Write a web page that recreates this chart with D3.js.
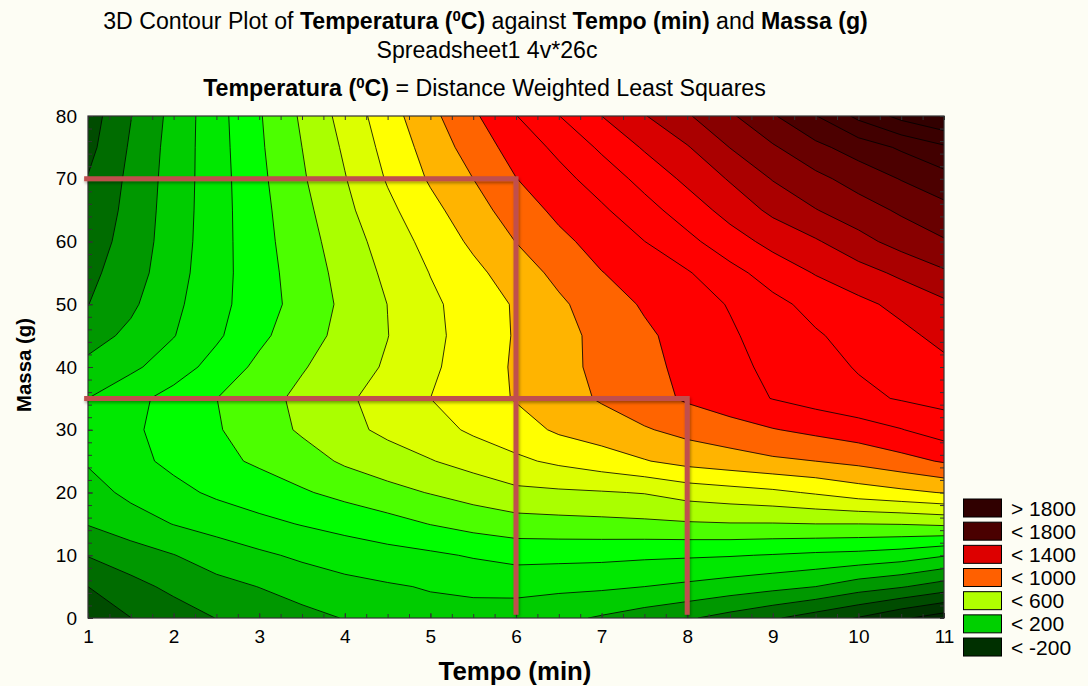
<!DOCTYPE html>
<html><head><meta charset="utf-8">
<script src="https://cdn.jsdelivr.net/npm/d3@7"></script>
<style>
html,body{margin:0;padding:0;background:#fdfdf4;}
svg{display:block;}
text{font-family:"Liberation Sans",Arial,sans-serif;fill:#000;}
</style></head><body>
<svg id="chart" width="1088" height="686"></svg>
<script>
// ---- data ----
const tempo = [1,1.5,2,2.5,3,3.5,4,4.5,5,5.5,6,6.5,7,7.5,8,8.5,9,9.5,10,10.5,11];
const massa = [0,5,10,15,20,25,30,35,40,45,50,55,60,65,70,75,80];
// one row per massa value (0 -> 80), one value per tempo value (1 -> 11)
const row00 = [-160,-101,-49,2,36,70,104,140,165,165,150,125,89,50,12,-36,-88,-146,-206,-284,-350];
const row05 = [-100,-32,23,68,102,141,170,190,207,219,229,221,216,200,180,155,129,100,46,8,-46];
const row10 = [5,55,97,149,183,217,246,266,283,309,332,329,325,317,312,306,295,281,271,250,208];
const row15 = [105,153,203,236,275,305,332,363,403,436,459,467,473,480,489,495,495,500,500,504,517];
const row20 = [160,224,271,318,350,389,429,470,505,541,577,585,593,605,641,660,680,711,750,778,805];
const row25 = [210,270,324,374,415,458,514,553,595,636,681,719,755,794,833,858,883,900,926,965,1010];
const row30 = [250,285,334,391,452,513,570,623,662,716,758,815,848,891,930,959,995,1024,1053,1096,1150];
const row35 = [200,269,336,399,462,524,583,642,700,754,807,859,911,963,1013,1058,1103,1140,1177,1208,1229];
const row40 = [125,180,251,337,423,492,552,612,683,749,812,869,924,974,1024,1074,1121,1165,1207,1242,1277];
const row45 = [60,122,196,284,378,458,530,598,675,742,808,868,927,983,1036,1088,1139,1190,1234,1276,1327];
const row50 = [-2,82,177,269,355,438,521,601,680,746,810,883,951,1011,1058,1106,1174,1230,1276,1326,1380];
const row55 = [-25,54,161,262,358,447,533,621,703,774,850,926,997,1045,1091,1169,1242,1306,1361,1420,1486];
const row60 = [-50,39,152,259,365,458,551,645,733,819,902,975,1039,1099,1174,1256,1330,1389,1467,1538,1591];
const row65 = [-75,31,147,258,370,471,575,676,770,860,947,1024,1085,1164,1247,1336,1422,1496,1556,1615,1670];
const row70 = [-95,23,143,258,377,488,595,709,812,900,998,1068,1145,1232,1322,1409,1506,1574,1640,1705,1763];
const row75 = [-130,12,139,260,385,500,614,733,840,944,1040,1123,1216,1311,1392,1502,1588,1674,1745,1814,1884];
const row80 = [-150,-3,132,263,391,514,636,756,873,983,1097,1198,1300,1394,1489,1584,1690,1796,1924,2030,2100];
const temperatura = [row00,row05,row10,row15,row20,row25,row30,row35,row40,row45,row50,row55,row60,row65,row70,row75,row80];

const levels = [-300,-200,-100,0,100,200,300,400,500,600,700,800,900,1000,1100,1200,1300,1400,1500,1600,1700,1800,1900,2000];
const levelColors = ["#003400","#004c00","#006c00","#009800","#00cc00","#00e800","#00ff00","#4cff00","#aaff00","#dcff00","#ffff00","#ffb400","#ff6400","#ff0000","#ff0000","#ff0000","#d80000","#aa0000","#880000","#680000","#4c0000","#420000","#3a0000","#320000"];
const belowColor = "#002800";

const legendLabels = ["> 1800","< 1800","< 1400","< 1000","< 600","< 200","< -200"];
const legendColors = ["#300000","#4a0000","#dd0000","#ff6000","#b0ff00","#00d000","#003000"];

const tempoTicks = [1,2,3,4,5,6,7,8,9,10,11];
const massaTicks = [0,10,20,30,40,50,60,70,80];

const guides = [{tempo:6, massa:70},{tempo:8, massa:35}];

// ---- layout ----
const svg = d3.select("#chart");
const x = d3.scaleLinear().domain([1,11]).range([88,944]);
const y = d3.scaleLinear().domain([0,80]).range([618,116]);

const defs = svg.append("defs");
defs.append("clipPath").attr("id","plotclip").append("rect")
  .attr("x",x(1)).attr("y",y(80)).attr("width",x(11)-x(1)).attr("height",y(0)-y(80));
const f = defs.append("filter").attr("id","shadow").attr("x","-20%").attr("y","-20%").attr("width","140%").attr("height","140%");
f.append("feDropShadow").attr("dx",1).attr("dy",2).attr("stdDeviation",1.6).attr("flood-color","#000").attr("flood-opacity",0.35);

// ---- contours ----
const n = tempo.length, m = massa.length;
const tStep = tempo[1]-tempo[0], mStep = massa[1]-massa[0];
const values = [];
temperatura.forEach(r => r.forEach(v => values.push(v)));
const contours = d3.contours().size([n,m]).thresholds(levels)(values);
const proj = d3.geoTransform({point: function(px,py){
  this.stream.point(x(tempo[0] + (px-0.5)*tStep), y(massa[0] + (py-0.5)*mStep));
}});
const path = d3.geoPath(proj);

const plot = svg.append("g").attr("clip-path","url(#plotclip)");
plot.append("rect").attr("x",x(1)).attr("y",y(80)).attr("width",x(11)-x(1)).attr("height",y(0)-y(80)).attr("fill",belowColor);
plot.selectAll("path.band").data(contours).join("path").attr("class","band")
  .attr("d",path).attr("fill",(d,i)=>levelColors[i]).attr("stroke",(d,i)=>levelColors[i]).attr("stroke-width",0.5);
plot.selectAll("path.line").data(contours).join("path").attr("class","line")
  .attr("d",path).attr("fill","none").attr("stroke","#000").attr("stroke-width",0.9).attr("stroke-opacity",0.9);

// ---- axes (ticks inward on all sides) ----
const minorT = d3.range(1,11.001,0.25), minorM = d3.range(0,80.001,2);
svg.append("g").attr("transform",`translate(0,${y(0)})`).call(d3.axisBottom(x).tickValues(minorT).tickSize(-4).tickFormat(""));
svg.append("g").attr("transform",`translate(0,${y(80)})`).call(d3.axisTop(x).tickValues(minorT).tickSize(-4).tickFormat(""));
svg.append("g").attr("transform",`translate(${x(1)},0)`).call(d3.axisLeft(y).tickValues(minorM).tickSize(-4).tickFormat(""));
svg.append("g").attr("transform",`translate(${x(11)},0)`).call(d3.axisRight(y).tickValues(minorM).tickSize(-4).tickFormat(""));
const xa = svg.append("g").attr("transform",`translate(0,${y(0)})`).call(d3.axisBottom(x).tickValues(tempoTicks).tickSize(-5).tickPadding(12).tickFormat(d3.format("d")));
const ya = svg.append("g").attr("transform",`translate(${x(1)},0)`).call(d3.axisLeft(y).tickValues(massaTicks).tickSize(-5).tickPadding(11).tickFormat(d3.format("d")));
svg.selectAll(".domain").remove();
svg.selectAll(".tick line").attr("stroke","#333");
[xa,ya].forEach(a=>a.selectAll("text").attr("font-size",19).attr("font-family","Liberation Sans, Arial, sans-serif").attr("fill","#000"));
svg.append("rect").attr("x",x(1)).attr("y",y(80)).attr("width",x(11)-x(1)).attr("height",y(0)-y(80))
  .attr("fill","none").attr("stroke","#333").attr("stroke-width",1.2);

// ---- guide lines ----
const gl = svg.append("g").attr("filter","url(#shadow)");
guides.forEach(g=>{
  gl.append("path").attr("d",`M${x(0.955)},${y(g.massa)}H${x(g.tempo)}V${y(0.5)}`)
    .attr("fill","none").attr("stroke","#c0504d").attr("stroke-width",5).attr("stroke-linejoin","miter");
});

// ---- titles ----
function fitText(sel, cx, width){
  const w = sel.node().getBBox().width;
  const fs = parseFloat(sel.attr("font-size"));
  sel.attr("font-size", fs*width/w).attr("x",cx).attr("text-anchor","middle");
}
const t1 = svg.append("text").attr("y",29).attr("font-size",20);
t1.append("tspan").text("3D Contour Plot of ");
t1.append("tspan").attr("font-weight","bold").text("Temperatura (");
t1.append("tspan").attr("font-weight","bold").attr("font-size","0.65em").attr("dy","-0.55em").text("0");
t1.append("tspan").attr("font-weight","bold").attr("dy","0.36em").text("C)");
t1.append("tspan").text(" against ");
t1.append("tspan").attr("font-weight","bold").text("Tempo (min)");
t1.append("tspan").text(" and ");
t1.append("tspan").attr("font-weight","bold").text("Massa (g)");
fitText(t1, 485.5, 765);

const t2 = svg.append("text").attr("y",58).attr("font-size",20).text("Spreadsheet1 4v*26c");
fitText(t2, 487, 221);

const t3 = svg.append("text").attr("y",96).attr("font-size",20);
t3.append("tspan").attr("font-weight","bold").text("Temperatura (");
t3.append("tspan").attr("font-weight","bold").attr("font-size","0.65em").attr("dy","-0.55em").text("0");
t3.append("tspan").attr("font-weight","bold").attr("dy","0.36em").text("C)");
t3.append("tspan").text(" = Distance Weighted Least Squares");
fitText(t3, 484.5, 563);

const xt = svg.append("text").attr("y",680).attr("font-size",19).attr("font-weight","bold").text("Tempo (min)");
fitText(xt, 515, 153);
const yt = svg.append("text").attr("font-size",19).attr("font-weight","bold").text("Massa (g)");
fitText(yt, 0, 94);
yt.attr("x",0).attr("y",0).attr("transform","translate(31,365) rotate(-90)");

// ---- legend ----
const lg = svg.append("g");
legendLabels.forEach((lab,i)=>{
  const yy = 499 + i*23.17;
  lg.append("rect").attr("x",963.5).attr("y",yy).attr("width",38).attr("height",18)
    .attr("fill",legendColors[i]).attr("stroke","#000").attr("stroke-width",1);
  lg.append("text").attr("x",1011).attr("y",yy+16.5).attr("font-size",21).text(lab);
});
</script>
</body></html>
